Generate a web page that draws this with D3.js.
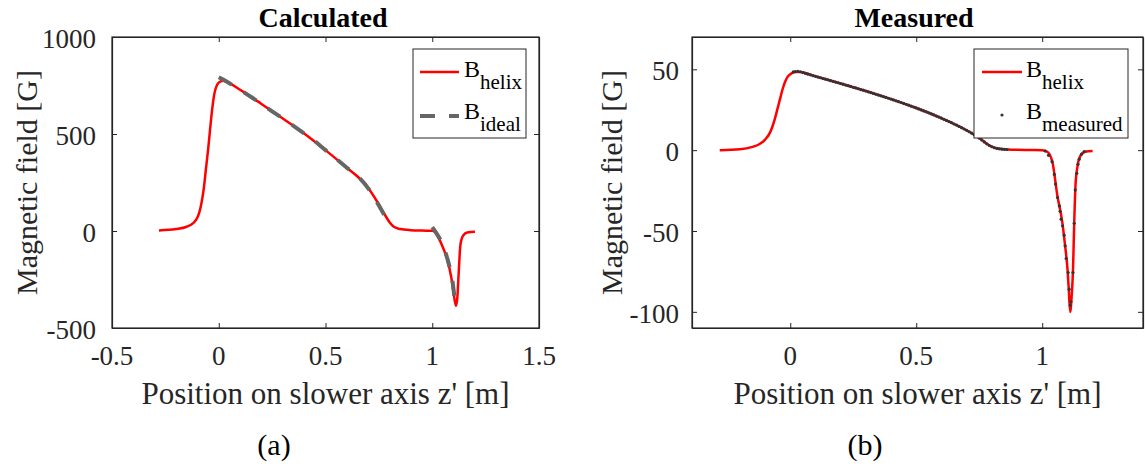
<!DOCTYPE html>
<html><head><meta charset="utf-8">
<script src="https://cdn.jsdelivr.net/npm/d3@7"></script>
<style>
html,body{margin:0;padding:0;background:#fff;}
svg{display:block;}
text{font-family:"Liberation Serif","Times New Roman",serif;}
</style></head>
<body>
<svg id="chart" width="1145" height="469"></svg>
<script>
// ---------- DATA ----------
// Panel (a): calculated field of the helix [G] vs position z' [m]
const calcHelixZ = [-0.28,-0.2,-0.15,-0.12,-0.1,-0.09,-0.08,-0.07,-0.06,-0.05,-0.04,-0.03,-0.02,-0.01,0,0.02,0.05,0.1,0.2,0.3,0.4,0.5,0.6,0.65,0.7,0.75,0.78,0.8,0.82,0.85,0.9,0.95,1.0,1.01,1.03,1.05,1.07,1.09,1.1,1.111,1.117,1.122,1.127,1.131,1.138,1.146,1.164,1.2];
const calcHelixB = [3,10,22,40,70,100,150,220,320,418,530,635,710,748,765,775,762,728,655,580,503,417,326,281,222,137,80,45,22,10,4,2,1,-3,-35,-85,-145,-245,-320,-385,-350,-255,-150,-80,-40,-22,-8,-4];
// ideal profile, two sections
const idealZ1 = [0,0.05,0.1,0.15,0.2,0.25,0.3,0.35,0.4,0.45,0.5,0.55,0.6,0.65,0.7,0.75,0.8];
const idealB1 = [792,762,728,692,655,617,580,542,503,463,417,372,326,283,220,132,32];
const idealZ2 = [1.0,1.02,1.04,1.06,1.08,1.095,1.105];
const idealB2 = [20,-12,-50,-105,-180,-260,-350];

// Panel (b): helix model and measured field [G]
const measHelixZ = [-0.28,-0.2,-0.15,-0.12,-0.1,-0.08,-0.06,-0.05,-0.04,-0.03,-0.02,-0.01,0,0.02,0.04,0.1,0.2,0.3,0.4,0.5,0.6,0.7,0.75,0.78,0.8,0.83,0.88,0.95,1.0,1.02,1.04,1.06,1.08,1.09,1.1,1.105,1.111,1.117,1.122,1.127,1.132,1.14,1.15,1.17,1.2];
const measHelixB = [0,0.5,2,4,6.5,11,20,26,32,38,42.5,45.5,47,48.3,48.3,45.7,41.2,36.6,31.6,26.1,19.8,12.3,7.5,4,2.2,0.9,0.3,0.1,0,-1,-7,-28,-45,-58,-73,-85,-100,-90,-75,-45,-22,-10,-4,-1,-0.5];
const measuredZ = [0.012,0.02,0.03,0.04,0.05,0.06,0.07,0.08,0.09,0.10,0.11,0.12,0.13,0.14,0.15,0.16,0.17,0.18,0.19,0.20,0.21,0.22,0.23,0.24,0.25,0.26,0.27,0.28,0.29,0.30,0.31,0.32,0.33,0.34,0.35,0.36,0.37,0.38,0.39,0.40,0.41,0.42,0.43,0.44,0.45,0.46,0.47,0.48,0.49,0.50,0.51,0.52,0.53,0.54,0.55,0.56,0.57,0.58,0.59,0.60,0.61,0.62,0.63,0.64,0.65,0.66,0.67,0.68,0.69,0.70,0.71,0.72,0.73,0.74,0.75,0.76,0.77,0.78,0.79,0.80,0.81,0.82,0.83,0.84,0.85,0.86,
  1.012,1.025,1.039,1.048,1.053,1.061,1.068,1.071,1.075,1.081,1.087,1.091,1.095,1.103,1.107,1.111,1.114,1.122,1.127,1.131,1.137,1.142,1.147,1.156,1.167];
const measuredB = [48.4,48.6,48.8,48.5,48.0,47.5,47.0,46.6,46.1,45.7,45.2,44.8,44.3,43.9,43.5,43.0,42.6,42.1,41.7,41.2,40.8,40.3,39.9,39.4,38.9,38.5,38.0,37.5,37.1,36.6,36.1,35.6,35.1,34.6,34.1,33.6,33.1,32.6,32.1,31.6,31.1,30.5,30.0,29.5,28.9,28.4,27.8,27.2,26.7,26.1,25.5,24.9,24.3,23.7,23.1,22.4,21.8,21.1,20.5,19.8,19.1,18.4,17.7,17.0,16.2,15.5,14.7,13.9,13.1,12.3,11.4,10.5,9.6,8.6,7.5,6.3,5.1,3.9,2.9,2.1,1.5,1.1,0.8,0.6,0.5,0.4,
  -0.5,-3.2,-7.1,-15,-21,-29.3,-34.5,-37.8,-42.7,-46.8,-52.6,-59.2,-67,-75.7,-86,-96,-93.8,-75.7,-45.2,-24.6,-14.3,-8.7,-5.6,-2.5,-0.9];

// axes / ticks
const xDomainA = [-0.5, 1.5], yDomainA = [-500, 1000];
const xTicksA = [-0.5, 0, 0.5, 1, 1.5], yTicksA = [1000, 500, 0, -500];
const xDomainB = [-0.39, 1.4], yDomainB = [-110, 70];
const xTicksB = [0, 0.5, 1], yTicksB = [50, 0, -50, -100];

const titles = ["Calculated", "Measured"];
const captions = ["(a)", "(b)"];
const xLabel = "Position on slower axis z' [m]";
const yLabel = "Magnetic field [G]";

// ---------- DRAW ----------
const svg = d3.select("#chart");
const axisColor = "#262626";

function zip(zs, bs){ return zs.map((z,i)=>({z:z,b:bs[i]})); }

function panel(opts){
  const {left, right, top, bottom} = opts;
  const x = d3.scaleLinear().domain(opts.xDomain).range([left, right]);
  const y = d3.scaleLinear().domain(opts.yDomain).range([bottom, top]);
  const g = svg.append("g");
  const tl = 5;
  g.append("g").attr("transform",`translate(0,${bottom})`)
    .call(d3.axisBottom(x).tickValues(opts.xTicks).tickSizeInner(-tl).tickSizeOuter(0).tickFormat(""));
  g.append("g").attr("transform",`translate(0,${top})`)
    .call(d3.axisTop(x).tickValues(opts.xTicks).tickSizeInner(-tl).tickSizeOuter(0).tickFormat(""));
  g.append("g").attr("transform",`translate(${left},0)`)
    .call(d3.axisLeft(y).tickValues(opts.yTicks).tickSizeInner(-tl).tickSizeOuter(0).tickFormat(""));
  g.append("g").attr("transform",`translate(${right},0)`)
    .call(d3.axisRight(y).tickValues(opts.yTicks).tickSizeInner(-tl).tickSizeOuter(0).tickFormat(""));
  g.selectAll(".domain").attr("stroke", axisColor).attr("stroke-width", 1.2);
  g.selectAll(".tick line").attr("stroke", axisColor).attr("stroke-width", 1);
  g.append("rect").attr("x",left).attr("y",top).attr("width",right-left).attr("height",bottom-top)
    .attr("fill","none").attr("stroke",axisColor).attr("stroke-width",1.2);
  const fmt = d => String(d);
  g.selectAll(".xt").data(opts.xTicks).enter().append("text")
    .attr("x", d=>x(d)).attr("y", bottom+37).attr("text-anchor","middle")
    .attr("font-size",27).attr("fill",axisColor).text(fmt);
  g.selectAll(".yt").data(opts.yTicks).enter().append("text")
    .attr("x", left-opts.yLabGap).attr("y", d=>y(d)+11).attr("text-anchor","end")
    .attr("font-size",27).attr("fill",axisColor).text(fmt);
  g.append("text").attr("x",(left+right)/2).attr("y",404).attr("text-anchor","middle")
    .attr("font-size",31).attr("fill",axisColor).text(xLabel);
  g.append("text").attr("transform",`translate(${opts.yLabX},${(top+bottom)/2}) rotate(-90)`)
    .attr("text-anchor","middle").attr("dy","0.35em")
    .attr("font-size",30).attr("fill",axisColor).text(yLabel);
  g.append("text").attr("x",opts.titleX).attr("y",27).attr("text-anchor","middle")
    .attr("font-size",28).attr("font-weight","bold").attr("fill","#000").text(opts.title);
  g.append("text").attr("x",opts.capX).attr("y",455).attr("text-anchor","middle")
    .attr("font-size",30).attr("fill","#000").text(opts.caption);
  return {g, x, y};
}

function lineGen(p){
  return d3.line().x(d=>p.x(d.z)).y(d=>p.y(d.b)).curve(d3.curveMonotoneX);
}

function legendLabel(g, x, yb, sub){
  const t = g.append("text").attr("x",x).attr("y",yb).attr("font-size",24).attr("fill","#000");
  t.append("tspan").text("B");
  t.append("tspan").attr("font-size",21).attr("dy",12).text(sub);
}

// Panel (a)
const pa = panel({left:112,right:539,top:37,bottom:328,xDomain:xDomainA,yDomain:yDomainA,
  xTicks:xTicksA,yTicks:yTicksA,yLabGap:16,yLabX:26,title:titles[0],titleX:323,caption:captions[0],capX:274});
pa.g.append("path").datum(zip(calcHelixZ,calcHelixB)).attr("d",lineGen(pa))
  .attr("fill","none").attr("stroke","#ff0000").attr("stroke-width",2.5);
[zip(idealZ1,idealB1), zip(idealZ2,idealB2)].forEach(seg=>{
  pa.g.append("path").datum(seg).attr("d",lineGen(pa))
    .attr("fill","none").attr("stroke","#666666").attr("stroke-width",4)
    .attr("stroke-dasharray","15,14");
});
pa.g.append("rect").attr("x",413).attr("y",49).attr("width",113).attr("height",89)
  .attr("fill","#fff").attr("stroke",axisColor).attr("stroke-width",1);
pa.g.append("line").attr("x1",420).attr("x2",459).attr("y1",72).attr("y2",72)
  .attr("stroke","#ff0000").attr("stroke-width",2.5);
legendLabel(pa.g, 464, 77, "helix");
pa.g.append("line").attr("x1",420).attr("x2",459).attr("y1",116).attr("y2",116)
  .attr("stroke","#666666").attr("stroke-width",4).attr("stroke-dasharray","15,14");
legendLabel(pa.g, 464, 119, "ideal");

// Panel (b)
const pb = panel({left:692,right:1143,top:37,bottom:328,xDomain:xDomainB,yDomain:yDomainB,
  xTicks:xTicksB,yTicks:yTicksB,yLabGap:13,yLabX:611,title:titles[1],titleX:914,caption:captions[1],capX:865});
pb.g.append("path").datum(zip(measHelixZ,measHelixB)).attr("d",lineGen(pb))
  .attr("fill","none").attr("stroke","#ff0000").attr("stroke-width",2.5);
pb.g.selectAll(".mp").data(zip(measuredZ,measuredB)).enter().append("circle")
  .attr("cx",d=>pb.x(d.z)).attr("cy",d=>pb.y(d.b)).attr("r",1.6).attr("fill","#333333");
pb.g.append("rect").attr("x",974).attr("y",49).attr("width",154).attr("height",89)
  .attr("fill","#fff").attr("stroke",axisColor).attr("stroke-width",1);
pb.g.append("line").attr("x1",982).attr("x2",1022).attr("y1",72).attr("y2",72)
  .attr("stroke","#ff0000").attr("stroke-width",2.5);
legendLabel(pb.g, 1026, 77, "helix");
pb.g.append("circle").attr("cx",1002).attr("cy",115).attr("r",1.6).attr("fill","#333333");
legendLabel(pb.g, 1026, 119, "measured");
</script>
</body></html>
